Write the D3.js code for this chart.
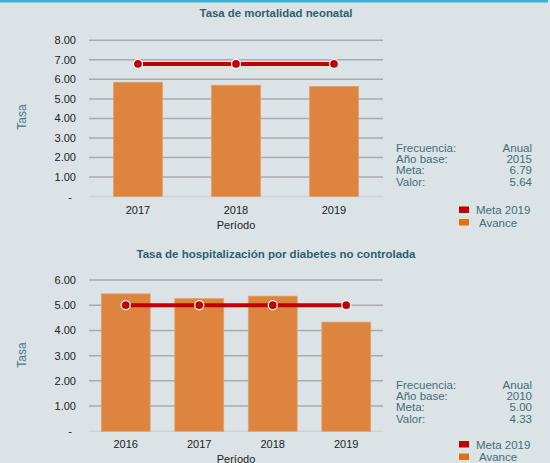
<!DOCTYPE html>
<html>
<head>
<meta charset="utf-8">
<script src="https://cdn.jsdelivr.net/npm/d3@7"></script>
<style>
  body { margin: 0; background: #dce3e6; }
  svg { display: block; font-family: "Liberation Sans", Arial, sans-serif; }
</style>
</head>
<body>
<div id="chart"></div>
<script>
// chart 1 data
var years1 = ["2017", "2018", "2019"];
var avance1 = [5.85, 5.70, 5.64];
var meta1 = [6.79, 6.79, 6.79];
var ticks1 = [0, 1, 2, 3, 4, 5, 6, 7, 8];
var info1 = [["Frecuencia:", "Anual"], ["Año base:", "2015"], ["Meta:", "6.79"], ["Valor:", "5.64"]];

// chart 2 data
var years2 = ["2016", "2017", "2018", "2019"];
var avance2 = [5.45, 5.26, 5.36, 4.33];
var meta2 = [5.00, 5.00, 5.00, 5.00];
var ticks2 = [0, 1, 2, 3, 4, 5, 6];
var info2 = [["Frecuencia:", "Anual"], ["Año base:", "2010"], ["Meta:", "5.00"], ["Valor:", "4.33"]];

var W = 550, H = 463;
var svg = d3.select("#chart").append("svg")
  .attr("width", W)
  .attr("height", H);

svg.append("rect").attr("width", W).attr("height", H).attr("fill", "#dce3e6");
// cyan line on top
svg.append("rect").attr("x", 0).attr("y", 0).attr("width", 548).attr("height", 2.5).attr("fill", "#36b4d4");

function drawChart(cfg) {
  var g = svg.append("g");

  // title
  g.append("text")
    .attr("x", 276).attr("y", cfg.titleY)
    .attr("text-anchor", "middle")
    .attr("font-size", cfg.titleSize).attr("font-weight", "bold")
    .attr("fill", "#2f5f6c")
    .text(cfg.title);

  var x = d3.scaleBand()
    .domain(cfg.years)
    .range([89, 383])
    .paddingInner(cfg.pad)
    .paddingOuter(cfg.pad / 2);

  var y = d3.scaleLinear()
    .domain([0, cfg.max])
    .range([cfg.y0, cfg.yTop]);

  // gridlines
  g.selectAll(".grid")
    .data(cfg.ticks)
    .enter().append("line")
      .attr("x1", 89).attr("x2", 383)
      .attr("y1", function(d) { return y(d); })
      .attr("y2", function(d) { return y(d); })
      .attr("stroke", function(d) { return d === 0 ? "#cfd3d5" : "#a9abac"; })
      .attr("stroke-width", 1.5);

  // y tick labels
  g.selectAll(".ylab")
    .data(cfg.ticks)
    .enter().append("text")
      .attr("x", d => d === 0 ? 72 : 76)
      .attr("y", function(d) { return y(d) + 4; })
      .attr("text-anchor", "end")
      .attr("font-size", 11)
      .attr("fill", "#222")
      .text(function(d) { return d === 0 ? "-" : d3.format(".2f")(d); });

  // bars
  g.selectAll(".bar")
    .data(cfg.avance)
    .enter().append("rect")
      .attr("x", function(d, i) { return x(cfg.years[i]); })
      .attr("y", function(d) { return y(d); })
      .attr("width", x.bandwidth())
      .attr("height", function(d) { return y(0) - y(d); })
      .attr("fill", "#dd843f")
      .attr("stroke", "#e4a06c")
      .attr("stroke-width", 0.8);

  // meta line
  var line = d3.line()
    .x(function(d, i) { return x(cfg.years[i]) + x.bandwidth() / 2; })
    .y(function(d) { return y(d); });
  g.append("path")
    .datum(cfg.meta)
    .attr("d", line)
    .attr("fill", "none")
    .attr("stroke", "#c00000")
    .attr("stroke-width", 4);
  g.selectAll(".dot")
    .data(cfg.meta)
    .enter().append("circle")
      .attr("cx", function(d, i) { return x(cfg.years[i]) + x.bandwidth() / 2; })
      .attr("cy", function(d) { return y(d); })
      .attr("r", 4.5)
      .attr("fill", "#c00000")
      .attr("stroke", "#fff")
      .attr("stroke-width", 1.3);

  // x labels
  g.selectAll(".xlab")
    .data(cfg.years)
    .enter().append("text")
      .attr("x", function(d) { return x(d) + x.bandwidth() / 2; })
      .attr("y", cfg.y0 + 17)
      .attr("text-anchor", "middle")
      .attr("font-size", 11)
      .attr("fill", "#222")
      .text(function(d) { return d; });

  g.append("text")
    .attr("x", 236).attr("y", cfg.y0 + 32)
    .attr("text-anchor", "middle")
    .attr("font-size", 11)
    .attr("fill", "#222")
    .text("Período");

  // y label
  g.append("text")
    .attr("transform", "translate(26," + cfg.tasaY + ") rotate(-90)")
    .attr("text-anchor", "middle")
    .attr("font-size", 12)
    .attr("fill", "#3f7a86")
    .text("Tasa");

  // info block
  cfg.info.forEach(function(r, i) {
    g.append("text")
      .attr("x", 396).attr("y", cfg.infoY + i * 11.2)
      .attr("font-size", 11.5).attr("fill", "#3f6d78")
      .text(r[0]);
    g.append("text")
      .attr("x", 532).attr("y", cfg.infoY + i * 11.2)
      .attr("text-anchor", "end")
      .attr("font-size", 11.5).attr("fill", "#3f6d78")
      .text(r[1]);
  });

  // legend
  var leg = [["Meta 2019", "#c00000"], ["Avance", "#e0720f"]];
  leg.forEach(function(l, i) {
    g.append("rect")
      .attr("x", 459).attr("y", cfg.legY + i * 12.5)
      .attr("width", 10).attr("height", 6.5)
      .attr("fill", l[1]);
    g.append("text")
      .attr("x", i === 0 ? 476 : 479).attr("y", cfg.legY + i * 12.5 + 7.5)
      .attr("font-size", 11.5).attr("fill", "#3f6d78")
      .text(l[0]);
  });
}

drawChart({
  title: "Tasa de mortalidad neonatal", titleY: 17, titleSize: 11.4,
  years: years1, avance: avance1, meta: meta1, ticks: ticks1, max: 8,
  y0: 196.5, yTop: 40.3, pad: 0.5, tasaY: 117,
  info: info1, infoY: 152, legY: 206.5
});

drawChart({
  title: "Tasa de hospitalización por diabetes no controlada", titleY: 258, titleSize: 11.5,
  years: years2, avance: avance2, meta: meta2, ticks: ticks2, max: 6,
  y0: 431.3, yTop: 280, pad: 0.335, tasaY: 355,
  info: info2, infoY: 389, legY: 441
});
</script>
</body>
</html>
